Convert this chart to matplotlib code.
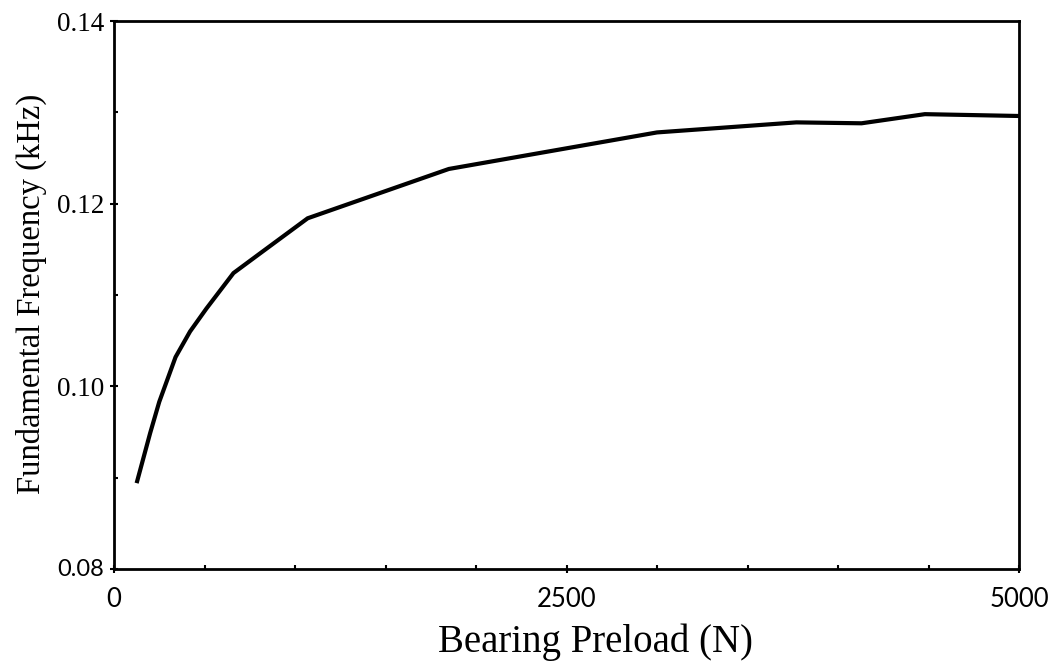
import matplotlib
matplotlib.use("Agg")
import matplotlib.pyplot as plt
from matplotlib.ticker import MultipleLocator

# Data
preload = [125, 200, 250, 340, 420, 510, 660, 810, 1070, 1850, 3000, 3770, 4130, 4480, 5000]
freq = [0.0894, 0.0949, 0.0983, 0.1032, 0.1060, 0.1085, 0.1124, 0.1146, 0.1184,
        0.1238, 0.1278, 0.1289, 0.1288, 0.1298, 0.1296]
xticks = [0, 2500, 5000]
xticklabels = ["0", "2500", "5000"]
yticks = [0.08, 0.10, 0.12, 0.14]
yticklabels = ["0.08", "0.10", "0.12", "0.14"]

plt.rcParams['font.family'] = ['Liberation Serif', 'DejaVu Serif']

fig = plt.figure(figsize=(10.5, 6.64), dpi=100)
ax = fig.add_axes([114/1050, 1 - 569/664, (1019-114)/1050, (569-21)/664])

ax.plot(preload, freq, color='black', lw=3.0, solid_capstyle='butt', solid_joinstyle='miter')

ax.set_xlim(0, 5000)
ax.set_ylim(0.08, 0.14)
ax.set_xticks(xticks)
ax.set_xticklabels(xticklabels)
ax.set_yticks(yticks)
ax.set_yticklabels(yticklabels)
ax.xaxis.set_minor_locator(MultipleLocator(500))
ax.yaxis.set_minor_locator(MultipleLocator(0.01))

for s in ax.spines.values():
    s.set_linewidth(2.0)

ax.tick_params(axis='both', which='major', direction='inout', length=6, width=1.5)
ax.tick_params(axis='both', which='minor', direction='in', length=3, width=1.5)
ax.tick_params(axis='x', which='major', pad=10, labelsize=18.5)
ax.tick_params(axis='y', which='major', pad=4, labelsize=19.5)
ax.tick_params(top=False, right=False, which='both')

for lab in ax.get_xticklabels():
    lab.set_fontfamily(['Lato', 'DejaVu Sans'])
ylabs = ax.get_yticklabels()
ylabs[0].set_fontfamily(['Lato', 'DejaVu Sans'])
ylabs[0].set_fontsize(17)
ylabs[0].set_va('center')

ax.set_xlabel("Bearing Preload (N)", fontsize=28)
ax.xaxis.set_label_coords((595 - 114) / 905, (569 - 642) / 548)
ax.xaxis.label.set_va('center')
ax.set_ylabel("Fundamental Frequency (kHz)", fontsize=23.5)
ax.yaxis.set_label_coords((31 - 114) / 905, (569 - 294) / 548)
ax.yaxis.label.set_va('center')

fig.savefig("out.png", dpi=100, facecolor='white')
